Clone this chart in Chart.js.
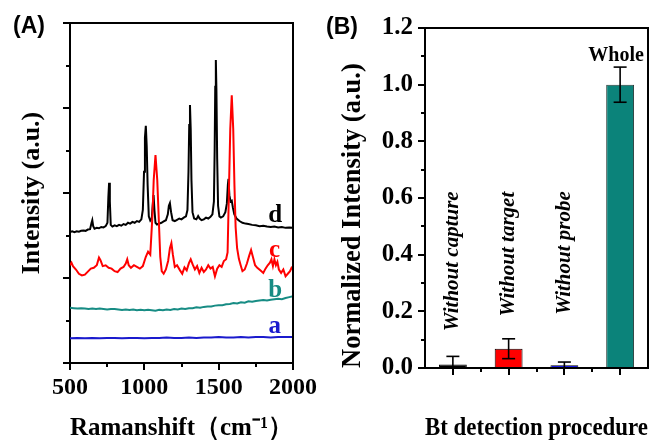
<!DOCTYPE html>
<html><head><meta charset="utf-8">
<script src="https://cdn.jsdelivr.net/npm/chart.js@4.4.1/dist/chart.umd.min.js"></script>
<style>
html,body{margin:0;padding:0;background:#fff;}
#wrap{position:relative;width:651px;height:441px;overflow:hidden;background:#fff;}
canvas{position:absolute;top:0;}
#ca{left:0;}
#cb{left:320px;}
</style></head><body>
<div id="wrap"><canvas id="ca" width="320" height="441"></canvas><canvas id="cb" width="331" height="441"></canvas></div>
<script>
// ---------------- Panel A data (Raman spectra) ----------------
const xTickValues = [500, 1000, 1500, 2000];
const spectrumLabels = ['a', 'b', 'c', 'd'];

const aShift = [500,550,600,650,700,750,800,850,900,950,1000,1050,1100,1150,1200,1250,1300,1350,1400,1450,1500,1550,1600,1650,1700,1750,1800,1850,1900,1950,2000];
const aInt = [0.58,0.59,0.58,0.59,0.58,0.59,0.59,0.58,0.59,0.59,0.58,0.59,0.59,0.60,0.59,0.59,0.60,0.59,0.60,0.60,0.61,0.60,0.60,0.61,0.60,0.61,0.61,0.60,0.61,0.61,0.61];

const bShift = [500,525,550,575,600,625,650,675,700,725,750,775,800,825,850,875,900,925,950,975,1000,1025,1050,1075,1100,1125,1150,1175,1200,1225,1250,1275,1300,1325,1350,1375,1400,1425,1450,1475,1500,1525,1550,1575,1600,1625,1650,1675,1700,1725,1750,1775,1800,1825,1850,1875,1900,1925,1950,1975,2000];
const bInt = [1.30,1.29,1.28,1.29,1.28,1.27,1.28,1.27,1.28,1.27,1.26,1.27,1.27,1.26,1.25,1.26,1.25,1.26,1.24,1.25,1.24,1.25,1.24,1.23,1.25,1.24,1.26,1.25,1.27,1.26,1.28,1.27,1.29,1.29,1.31,1.30,1.32,1.33,1.33,1.35,1.36,1.36,1.38,1.39,1.41,1.40,1.43,1.42,1.45,1.44,1.46,1.47,1.48,1.47,1.49,1.50,1.51,1.50,1.53,1.55,1.57];

const cShift = [500,510,520,540,560,580,600,620,640,660,680,695,705,720,740,760,780,800,820,840,860,875,885,895,910,930,950,970,990,1010,1025,1040,1055,1063,1075,1087,1097,1107,1117,1130,1145,1160,1172,1182,1192,1205,1220,1240,1255,1270,1285,1300,1312,1325,1340,1355,1370,1385,1400,1415,1430,1445,1460,1475,1490,1505,1520,1535,1550,1560,1570,1578,1588,1598,1606,1614,1624,1636,1648,1660,1675,1690,1705,1718,1730,1745,1760,1780,1800,1815,1830,1845,1855,1865,1875,1885,1895,1905,1920,1935,1950,1965,1980,1990,2000];
const cInt = [2.30,2.36,2.28,2.20,2.10,2.06,2.08,2.15,2.22,2.24,2.30,2.48,2.42,2.28,2.30,2.24,2.22,2.16,2.14,2.22,2.26,2.34,2.44,2.30,2.24,2.30,2.26,2.22,2.28,2.50,2.62,2.55,3.50,4.30,4.89,4.30,3.40,2.50,2.16,2.10,2.20,2.40,2.70,2.82,2.55,2.26,2.30,2.18,2.10,2.25,2.18,2.35,2.44,2.32,2.20,2.28,2.12,2.24,2.14,2.20,2.30,2.22,2.26,2.04,2.22,2.30,2.26,2.40,2.44,2.60,4.20,5.50,6.30,5.50,4.20,3.20,2.70,2.45,2.30,2.16,2.20,2.34,2.52,2.66,2.50,2.30,2.24,2.18,2.12,2.22,2.30,2.36,2.44,2.28,2.44,2.30,2.38,2.20,2.12,2.20,2.04,2.10,2.16,2.24,2.20];

const dShift = [500,515,530,545,560,575,590,605,620,635,645,650,656,665,680,695,710,725,740,752,758,763,768,774,785,800,815,830,845,860,875,890,905,920,935,950,965,980,990,998,1004,1010,1016,1022,1030,1040,1050,1056,1062,1068,1075,1085,1100,1115,1130,1145,1158,1165,1172,1180,1190,1205,1220,1235,1250,1265,1280,1290,1297,1302,1307,1312,1317,1324,1335,1350,1362,1372,1385,1400,1415,1430,1445,1458,1468,1473,1477,1481,1485,1490,1496,1505,1515,1530,1545,1555,1562,1566,1572,1580,1588,1596,1605,1620,1640,1660,1680,1700,1725,1750,1775,1800,1825,1850,1875,1900,1925,1950,1975,2000];
const dInt = [3.08,3.10,3.08,3.10,3.09,3.11,3.12,3.11,3.14,3.15,3.30,3.36,3.22,3.16,3.18,3.17,3.20,3.19,3.22,3.30,3.90,4.24,3.80,3.25,3.21,3.24,3.22,3.25,3.23,3.27,3.25,3.30,3.28,3.32,3.30,3.34,3.32,3.38,3.60,4.50,5.30,5.58,5.10,4.20,3.45,3.35,3.40,3.70,3.95,3.60,3.30,3.26,3.28,3.30,3.33,3.36,3.50,3.70,3.76,3.55,3.36,3.34,3.37,3.40,3.38,3.42,3.45,3.60,4.50,5.60,6.07,5.50,4.30,3.55,3.40,3.38,3.46,3.40,3.36,3.38,3.42,3.40,3.44,3.50,3.80,5.00,6.50,7.13,6.40,4.80,3.70,3.45,3.42,3.45,3.55,3.75,4.20,4.33,3.95,3.80,3.82,3.65,3.50,3.40,3.34,3.30,3.28,3.27,3.25,3.24,3.22,3.23,3.21,3.20,3.21,3.19,3.20,3.18,3.19,3.18];

// ---------------- Panel B data (bar chart) ----------------
const categories = ['Without capture', 'Without target', 'Without probe', 'Whole'];
const normIntensity = [0.012, 0.068, 0.010, 1.000];
const normError = [0.029, 0.035, 0.011, 0.062];
const yTickValuesB = [0.0, 0.2, 0.4, 0.6, 0.8, 1.0, 1.2];

// ---------------- styles / layout ----------------
const BLUE = '#1a1acd', TEAL = '#178c84', RED = '#ff0000', BLACK = '#000000';
const barColors = [BLACK, RED, '#1a1ae0', '#0b837a'];
const barBorders = ['#000', '#000', '#000', '#2a3a38'];
const lineColors = [BLUE, TEAL, RED, BLACK];
const labelAnchors = [[1878, 0.71], [1880, 1.56], [1876, 2.50], [1880, 3.32]];
const catLabelBase = [0.13, 0.182, 0.188];
const SERIF = "'Liberation Serif', 'Times New Roman', serif";
const SANS = "'Liberation Sans', Arial, sans-serif";

Chart.defaults.font.family = SERIF;
Chart.defaults.color = '#000';

function pts(xs, ys) { return xs.map((x, i) => ({ x: x, y: ys[i] })); }

function line(ctx, x1, y1, x2, y2) { ctx.beginPath(); ctx.moveTo(x1, y1); ctx.lineTo(x2, y2); ctx.stroke(); }

const axisGrid = { display: true, drawOnChartArea: false, drawTicks: true, tickLength: 7, tickWidth: 2, tickColor: '#000', color: '#000', lineWidth: 2 };
const axisBorder = { display: true, color: '#000', width: 2 };

// ---------- Panel A ----------
const decorA = {
  id: 'decorA',
  afterDraw(chart) {
    const { ctx, chartArea: ca, scales } = chart;
    const xs = scales.x, ys = scales.y;
    ctx.save();
    ctx.strokeStyle = '#000'; ctx.lineWidth = 2;
    line(ctx, ca.left - 1, ca.top, ca.right + 1, ca.top);
    line(ctx, ca.right, ca.top - 1, ca.right, ca.bottom + 1);
    // minor ticks
    for (let i = 0; i < xTickValues.length - 1; i++) {
      const px = Math.round(xs.getPixelForValue((xTickValues[i] + xTickValues[i + 1]) / 2));
      line(ctx, px, ca.bottom, px, ca.bottom + 4);
    }
    for (let v = ys.min + 1; v < ys.max; v += 2) {
      const py = Math.round(ys.getPixelForValue(v));
      line(ctx, ca.left - 4, py, ca.left, py);
    }
    // spectrum letters
    ctx.font = 'bold 25px ' + SERIF;
    ctx.textAlign = 'center'; ctx.textBaseline = 'alphabetic';
    spectrumLabels.forEach((t, i) => {
      ctx.fillStyle = lineColors[i];
      ctx.fillText(t, xs.getPixelForValue(labelAnchors[i][0]), ys.getPixelForValue(labelAnchors[i][1]));
    });
    // panel tag
    ctx.fillStyle = '#000';
    ctx.font = 'bold 23px ' + SANS;
    ctx.textAlign = 'left'; ctx.textBaseline = 'middle';
    ctx.fillText('(A)', 13, 27);
    ctx.restore();
  }
};

new Chart(document.getElementById('ca'), {
  type: 'line',
  data: {
    datasets: [
      { label: 'a', data: pts(aShift, aInt), borderColor: lineColors[0] },
      { label: 'b', data: pts(bShift, bInt), borderColor: lineColors[1] },
      { label: 'c', data: pts(cShift, cInt), borderColor: lineColors[2] },
      { label: 'd', data: pts(dShift, dInt), borderColor: lineColors[3] }
    ]
  },
  options: {
    responsive: false, animation: false,
    layout: { padding: { left: 0, right: 27, top: 23, bottom: 0 } },
    elements: { point: { radius: 0 }, line: { borderWidth: 2, tension: 0 } },
    plugins: { legend: { display: false }, tooltip: { enabled: false } },
    scales: {
      x: {
        type: 'linear', min: 500, max: 2000,
        afterBuildTicks: (s) => { s.ticks = xTickValues.map(v => ({ value: v })); },
        ticks: { autoSkip: false, maxRotation: 0, padding: 3, font: { size: 24, weight: 'bold' }, color: '#000', callback: (v) => String(v) },
        grid: axisGrid, border: axisBorder,
        title: { display: true, text: 'Ramanshift（cm⁻¹）', font: { size: 26, weight: 'bold', lineHeight: 1 }, padding: { top: 0, bottom: 0 }, color: '#000' },
        afterFit: (s) => { s.height = 78; }
      },
      y: {
        type: 'linear', min: 0, max: 8,
        ticks: { stepSize: 2, display: false },
        grid: axisGrid, border: axisBorder,
        title: { display: true, text: 'Intensity (a.u.)', font: { size: 26, weight: 'bold', lineHeight: 1.2 }, padding: { top: 17, bottom: 0 }, color: '#000' },
        afterFit: (s) => { s.width = 70; }
      }
    }
  },
  plugins: [decorA]
});

// ---------- Panel B ----------
const decorB = {
  id: 'decorB',
  afterDatasetsDraw(chart) {
    const { ctx, chartArea: ca, scales } = chart;
    const ys = scales.y;
    const meta = chart.getDatasetMeta(0);
    ctx.save();
    ctx.beginPath(); ctx.rect(ca.left, ca.top - 10, ca.right - ca.left, ca.bottom - ca.top + 10); ctx.clip();
    ctx.strokeStyle = '#000'; ctx.lineWidth = 1.6;
    meta.data.forEach((bar, i) => {
      const x = bar.x;
      const yt = ys.getPixelForValue(normIntensity[i] + normError[i]);
      const yb = ys.getPixelForValue(normIntensity[i] - normError[i]);
      line(ctx, x, yt, x, yb);
      line(ctx, x - 6.5, yt, x + 6.5, yt);
      line(ctx, x - 6.5, yb, x + 6.5, yb);
    });
    ctx.restore();
  },
  afterDraw(chart) {
    const { ctx, chartArea: ca, scales } = chart;
    const ys = scales.y, xs = scales.x;
    const meta = chart.getDatasetMeta(0);
    ctx.save();
    ctx.strokeStyle = '#000'; ctx.lineWidth = 2;
    line(ctx, ca.left - 1, ca.top, ca.right + 1, ca.top);
    line(ctx, ca.right, ca.top - 1, ca.right, ca.bottom + 1);
    // minor ticks
    for (let i = 0; i < yTickValuesB.length - 1; i++) {
      const py = Math.round(ys.getPixelForValue((yTickValuesB[i] + yTickValuesB[i + 1]) / 2));
      line(ctx, ca.left - 4, py, ca.left, py);
    }
    for (let i = 0; i < categories.length - 1; i++) {
      const px = Math.round((xs.getPixelForValue(i) + xs.getPixelForValue(i + 1)) / 2);
      line(ctx, px, ca.bottom, px, ca.bottom + 4);
    }
    // category labels
    ctx.fillStyle = '#000';
    ctx.font = 'italic bold 21px ' + SERIF;
    for (let i = 0; i < 3; i++) {
      ctx.save();
      ctx.translate(meta.data[i].x, ys.getPixelForValue(catLabelBase[i]));
      ctx.rotate(-Math.PI / 2);
      ctx.textAlign = 'left'; ctx.textBaseline = 'middle';
      ctx.fillText(categories[i], 0, 0);
      ctx.restore();
    }
    ctx.font = 'bold 20px ' + SERIF;
    ctx.textAlign = 'center'; ctx.textBaseline = 'alphabetic';
    ctx.fillText(categories[3], meta.data[3].x - 4, ys.getPixelForValue(normIntensity[3] + normError[3]) - 6);
    // panel tag
    ctx.font = 'bold 23px ' + SANS;
    ctx.textAlign = 'left'; ctx.textBaseline = 'middle';
    ctx.fillText('(B)', 6, 28);
    ctx.restore();
  }
};

new Chart(document.getElementById('cb'), {
  type: 'bar',
  data: {
    labels: categories,
    datasets: [{ data: normIntensity, backgroundColor: barColors, borderColor: barBorders, borderWidth: 1, barPercentage: 0.5, categoryPercentage: 1.0 }]
  },
  options: {
    responsive: false, animation: false,
    layout: { padding: { left: 0, right: 3, top: 28, bottom: 0 } },
    plugins: { legend: { display: false }, tooltip: { enabled: false } },
    scales: {
      x: {
        type: 'category', offset: true,
        ticks: { display: false },
        grid: Object.assign({}, axisGrid, { offset: false }), border: axisBorder,
        title: { display: true, text: 'Bt detection procedure', align: 'end', font: { size: 26, weight: 'bold', lineHeight: 1 }, padding: { top: 0, bottom: 0 }, color: '#000' },
        afterFit: (s) => { s.height = 73; }
      },
      y: {
        type: 'linear', min: 0, max: 1.2,
        afterBuildTicks: (s) => { s.ticks = yTickValuesB.map(v => ({ value: v })); },
        ticks: { padding: 5, font: { size: 25, weight: 'bold' }, color: '#000', callback: (v) => Number(v).toFixed(1) },
        grid: axisGrid, border: axisBorder,
        title: { display: true, text: 'Normalized Intensity (a.u.)', align: 'start', font: { size: 26.5, weight: 'bold', lineHeight: 1.2 }, padding: { top: 17, bottom: 0 }, color: '#000' },
        afterFit: (s) => { s.width = 105; }
      }
    }
  },
  plugins: [decorB]
});
</script>
</body></html>
